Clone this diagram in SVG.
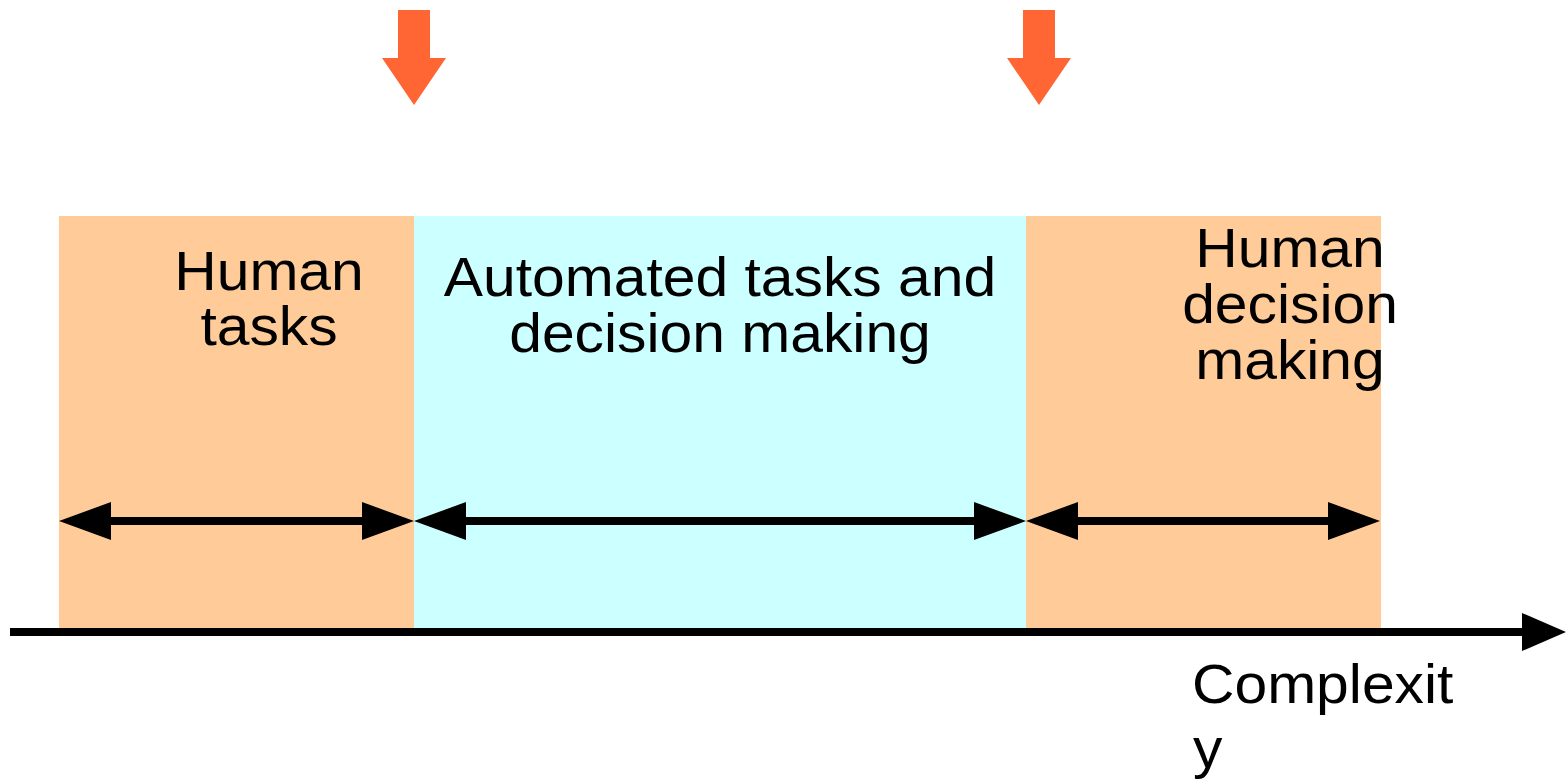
<svg xmlns="http://www.w3.org/2000/svg" width="1568" height="784" viewBox="0 0 1568 784">
  <style>
    .band-warm { fill: #FFCC99; }
    .band-cool { fill: #CCFFFF; }
    .label { font-family: "Liberation Sans", Arial, sans-serif; font-size: 56px; fill: #000000; }
    .mid { text-anchor: middle; }
    .span { stroke: #000000; stroke-width: 8; fill: none; }
    .head { fill: #000000; }
    .marker-arrow { fill: #FF6633; }
  </style>

  <!-- background bands; labels are set slightly wide (scale 1.05 horizontally) -->
  <g id="human-tasks">
    <rect class="band-warm" x="59" y="216" width="355" height="412"/>
    <text class="label mid" transform="translate(269,290) scale(1.05,1)">Human</text>
    <text class="label mid" transform="translate(269,345) scale(1.05,1)">tasks</text>
  </g>
  <g id="automated">
    <rect class="band-cool" x="414" y="216" width="612" height="412"/>
    <text class="label mid" transform="translate(720,296) scale(1.05,1)">Automated tasks and</text>
    <text class="label mid" transform="translate(720,352) scale(1.05,1)">decision making</text>
  </g>
  <g id="human-decision">
    <rect class="band-warm" x="1026" y="216" width="355" height="412"/>
    <text class="label mid" transform="translate(1290,267) scale(1.05,1)">Human</text>
    <text class="label mid" transform="translate(1290,323) scale(1.05,1)">decision</text>
    <text class="label mid" transform="translate(1290,379) scale(1.05,1)">making</text>
  </g>

  <!-- boundary markers -->
  <g id="boundary-1">
    <polygon class="marker-arrow" points="398,10 430,10 430,58 446,58 414,105 382,58 398,58"/>
  </g>
  <g id="boundary-2">
    <polygon class="marker-arrow" points="1023,10 1055,10 1055,58 1071,58 1039,105 1007,58 1023,58"/>
  </g>

  <!-- axis label -->
  <g id="axis-label">
    <text class="label" transform="translate(1192,703) scale(1.05,1)">Complexit</text>
    <text class="label" transform="translate(1193,767) scale(1.05,1)">y</text>
  </g>

  <!-- connectors: span arrows and complexity axis -->
  <g id="connectors">
    <line class="span" x1="105" y1="521" x2="368" y2="521"/>
    <polygon class="head" points="59,521 111,502 111,540"/>
    <polygon class="head" points="414,521 362,502 362,540"/>

    <line class="span" x1="460" y1="521" x2="980" y2="521"/>
    <polygon class="head" points="414,521 466,502 466,540"/>
    <polygon class="head" points="1026,521 974,502 974,540"/>

    <line class="span" x1="1072" y1="521" x2="1334" y2="521"/>
    <polygon class="head" points="1026,521 1078,502 1078,540"/>
    <polygon class="head" points="1380,521 1328,502 1328,540"/>

    <line class="span" x1="10" y1="632" x2="1530" y2="632"/>
    <polygon class="head" points="1566,632 1522,613 1522,651"/>
  </g>
</svg>
